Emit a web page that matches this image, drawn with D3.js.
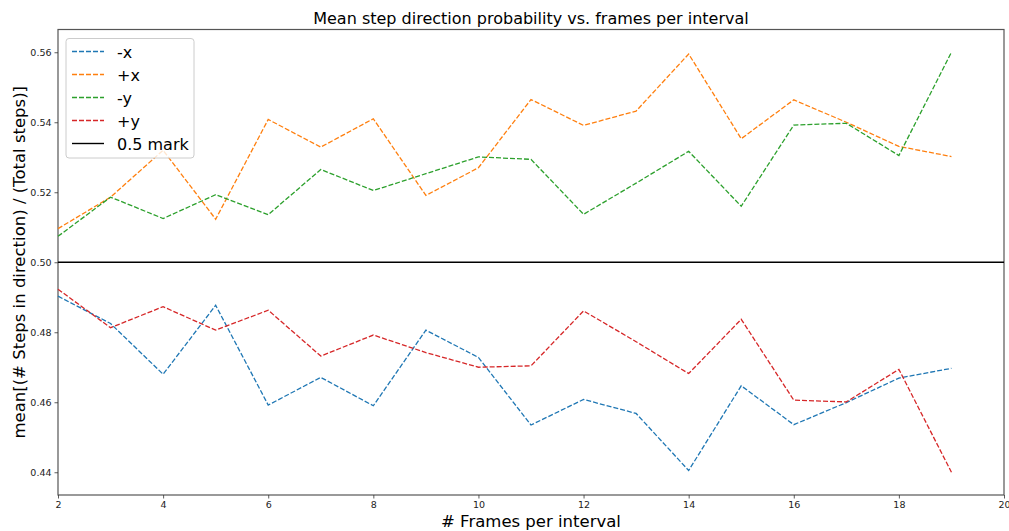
<!DOCTYPE html>
<html lang="en">
<head>
  <meta charset="UTF-8">
  <title>Mean step direction probability</title>
  <script src="https://d3js.org/d3.v7.min.js"></script>
  <style>
    body { margin: 0; background: #fff; }
    svg { display: block; font-family: "DejaVu Sans", sans-serif; }
  </style>
</head>
<body>
<div class="main"></div>
<script>

  // frames per interval
  const frames = [2, 3, 4, 5, 6, 7, 8, 9, 10, 11, 12, 13, 14, 15, 16, 17, 18, 19];

  // mean step direction probability per series
  const minusX = [0.4903, 0.4825, 0.4680, 0.4877, 0.4592, 0.4671, 0.4590, 0.4806, 0.4728,
                  0.4535, 0.4608, 0.4568, 0.4405, 0.4647, 0.4536, 0.4599, 0.4669, 0.4697];
  const plusX  = [0.5096, 0.5186, 0.5320, 0.5123, 0.5408, 0.5329, 0.5410, 0.5191, 0.5270,
                  0.5465, 0.5391, 0.5432, 0.5595, 0.5353, 0.5464, 0.5400, 0.5331, 0.5302];
  const minusY = [0.5074, 0.5186, 0.5125, 0.5193, 0.5136, 0.5265, 0.5205, 0.5253, 0.5301,
                  0.5294, 0.5137, 0.5226, 0.5317, 0.5160, 0.5392, 0.5397, 0.5305, 0.5600];
  const plusY  = [0.4923, 0.4813, 0.4873, 0.4806, 0.4863, 0.4732, 0.4792, 0.4742, 0.4700,
                  0.4704, 0.4861, 0.4773, 0.4682, 0.4837, 0.4606, 0.4601, 0.4694, 0.4400];

  const seriesNames = ["-x", "+x", "-y", "+y"];
  const seriesColors = ["#1f77b4", "#ff7f0e", "#2ca02c", "#d62728"];
  const markLevel = 0.5;

  const xTicks = [2, 4, 6, 8, 10, 12, 14, 16, 18, 20];
  const yTicks = [0.44, 0.46, 0.48, 0.50, 0.52, 0.54, 0.56];

  let width = 1009, height = 531;
  let margin = {top: 29.5, right: 5, bottom: 36, left: 58};

  let svg = d3.select(".main")
          .append("svg")
          .attr("width", width)
          .attr("height", height);

  let xScale = d3.scaleLinear()
          .domain([2, 20])
          .range([margin.left, width - margin.right]);
  let yScale = d3.scaleLinear()
          .domain([0.4335, 0.5665])
          .range([height - margin.bottom, margin.top]);

  // plot frame
  svg.append("rect")
          .attr("x", margin.left).attr("y", margin.top)
          .attr("width", xScale(20) - xScale(2))
          .attr("height", yScale(0.4335) - yScale(0.5665))
          .style("fill", "none")
          .style("stroke", "#555")
          .style("stroke-width", 1.2);

  let xAxis = d3.axisBottom(xScale)
          .tickValues(xTicks)
          .tickFormat(d3.format("d"))
          .tickSize(3.5)
          .tickPadding(3);
  let yAxis = d3.axisLeft(yScale)
          .tickValues(yTicks)
          .tickFormat(d3.format(".2f"))
          .tickSize(3.5)
          .tickPadding(3);

  function drawAxis(axis, translate){
    let g = svg.append("g").attr("transform", translate).call(axis);
    g.select(".domain").remove();
    g.selectAll(".tick line").style("stroke", "#333").style("stroke-width", 0.8);
    g.selectAll(".tick text").style("fill", "#222").style("font-size", "9.5px")
            .style("font-family", "DejaVu Sans, sans-serif");
    return g;
  }
  drawAxis(xAxis, `translate(0, ${height - margin.bottom})`);
  drawAxis(yAxis, `translate(${margin.left}, 0)`);

  // lines
  let line = d3.line()
          .x(function(d, i){ return xScale(frames[i]); })
          .y(function(d){ return yScale(d); });

  let lineG = svg.append("g");
  [minusX, plusX, minusY, plusY].forEach(function(vals, i){
    lineG.append("path")
            .datum(vals)
            .attr("d", line)
            .style("fill", "none")
            .style("stroke", seriesColors[i])
            .style("stroke-width", 1.3)
            .style("stroke-dasharray", "5,2");
  });

  svg.append("line")
          .attr("x1", xScale(2)).attr("x2", xScale(20))
          .attr("y1", yScale(markLevel)).attr("y2", yScale(markLevel))
          .style("stroke", "black")
          .style("stroke-width", 1.4);

  // title + labels
  svg.append("text")
          .attr("x", (xScale(2) + xScale(20)) / 2).attr("y", 24)
          .attr("text-anchor", "middle")
          .style("font-size", "16px")
          .text("Mean step direction probability vs. frames per interval");

  svg.append("text")
          .attr("x", (xScale(2) + xScale(20)) / 2).attr("y", 527)
          .attr("text-anchor", "middle")
          .style("font-size", "16.5px")
          .text("# Frames per interval");

  svg.append("text")
          .attr("transform", `translate(25, ${(margin.top + height - margin.bottom) / 2}) rotate(-90)`)
          .attr("text-anchor", "middle")
          .style("font-size", "16.5px")
          .text("mean[(# Steps in direction) / (Total steps)]");

  // legend
  let legend = svg.append("g");
  legend.append("rect")
          .attr("x", 66).attr("y", 38.5)
          .attr("width", 128).attr("height", 119.5)
          .attr("rx", 3)
          .style("fill", "rgba(255,255,255,0.8)")
          .style("stroke", "#ccc")
          .style("stroke-width", 1);

  let legendItems = seriesNames.map(function(n, i){ return {name: n, color: seriesColors[i], dash: "5,2"}; });
  legendItems.push({name: "0.5 mark", color: "black", dash: null});

  legendItems.forEach(function(item, i){
    let y = 51.5 + i * 23;
    legend.append("line")
            .attr("x1", 72).attr("x2", 104)
            .attr("y1", y).attr("y2", y)
            .style("stroke", item.color)
            .style("stroke-width", 1.4)
            .style("stroke-dasharray", item.dash);
    legend.append("text")
            .attr("x", 117).attr("y", y + 6)
            .style("font-size", "16px")
            .text(item.name);
  });

</script>
</body>
</html>
